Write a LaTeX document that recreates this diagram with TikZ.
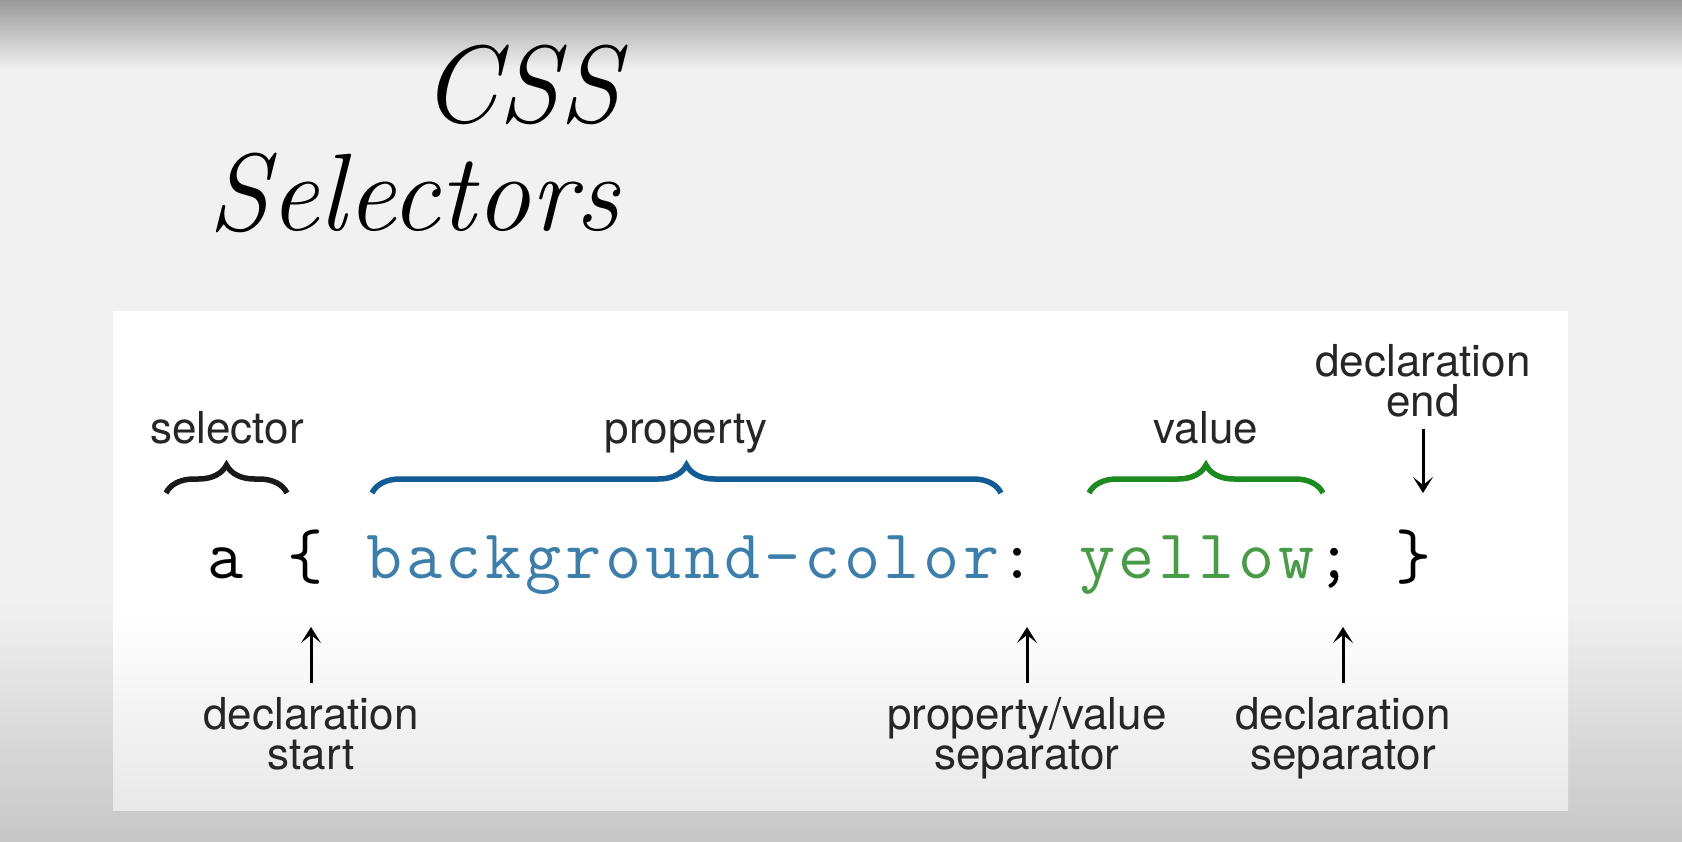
\documentclass[tikz,border=0pt]{standalone}
\usepackage{fontspec}
\usetikzlibrary{arrows.meta,decorations.pathreplacing}
\newfontfamily\labelfont{TeX Gyre Heros}
\newfontfamily\codefont[LetterSpace=5.4]{Latin Modern Mono}
\definecolor{bgGray}{HTML}{F1F1F1}
\definecolor{propText}{HTML}{3E7EAB}
\definecolor{propBrace}{HTML}{125C96}
\definecolor{valText}{HTML}{4A9B48}
\definecolor{valBrace}{HTML}{1C8A1E}

\begin{document}
\begin{tikzpicture}
      [x=1pt,y=-1pt,%%%%%%%%%%%%%%%%%%%%%%%%%%%%%%
      title/.style={anchor=base east,inner sep=0pt,font=\fontsize{110}{110}\selectfont\itshape},
      lbl/.style={inner sep=0pt,align=center,font=\labelfont\fontsize{44}{40}\selectfont,text=black!85},
      tok/.style={anchor=base west,inner sep=0pt,font=\codefont\fontsize{70}{70}\selectfont},
      brc/.style={decorate,decoration={brace,amplitude=28pt},line width=5.5pt},
      arr/.style={line width=3pt,-{Stealth[length=16pt,width=20pt,inset=8pt]}},
      ]%%%%%%%%%%%%%%%%%%%%%%%%%%%%%%
      \useasboundingbox (0,0) rectangle (1682,842);

      % background
      \fill[bgGray] (0,0) rectangle (1682,842);
      \shade[top color=black!40,bottom color=bgGray] (0,0) rectangle (1682,70);
      \shade[top color=bgGray,bottom color=black!22] (0,600) rectangle (1682,842);
      \fill[white] (113,311) rectangle (1568,610);
      \shade[top color=white,bottom color=black!9] (113,609) rectangle (1568,810);

      % title
      \node[title] (css) at (620,123) {CSS};
      \node[title] (sel) at (620,231) {Selectors};

      % code line
      \node[tok] (selA)  at (207.6+0*39.6,578) {a};
      \node[tok] (open)  at (207.6+2*39.6,578) {\{};
      \node[tok,text=propText] (prop) at (207.6+4*39.6,578) {background-color};
      \node[tok] (colon) at (207.6+20*39.6,578) {:};
      \node[tok,text=valText] (val) at (207.6+22*39.6,578) {yellow};
      \node[tok] (semi)  at (207.6+28*39.6,578) {;};
      \node[tok] (close) at (207.6+30*39.6,578) {\}};

      % braces
      \draw[brc,black!90] (166,493) -- (287,493);
      \draw[brc,propBrace] (372,493) -- (1001,493);
      \draw[brc,valBrace] (1089,493) -- (1323,493);
      \node[lbl,anchor=base] (lsel)  at (227,443) {selector};
      \node[lbl,anchor=base] (lprop) at (686,443) {property};
      \node[lbl,anchor=base] (lval)  at (1206,443) {value};

      % labels with arrows
      \node[lbl,anchor=north] (lend)   at (1423,344) {declaration\\end};
      \node[lbl,anchor=north] (lstart) at (311,697) {declaration\\start};
      \node[lbl,anchor=north] (lpv)    at (1027,697) {property/value\\separator};
      \node[lbl,anchor=north] (ldsep)  at (1343,697) {declaration\\separator};
      \coordinate (endtip) at (1423,493);
      \draw[arr] ([yshift=-12]lend.south) -- (endtip);
      \draw[arr] ([yshift=14]lstart.north) -- ([yshift=70]lstart.north);
      \draw[arr] ([yshift=14]lpv.north) -- ([yshift=70]lpv.north);
      \draw[arr] ([yshift=14]ldsep.north) -- ([yshift=70]ldsep.north);
\end{tikzpicture}
\end{document}
